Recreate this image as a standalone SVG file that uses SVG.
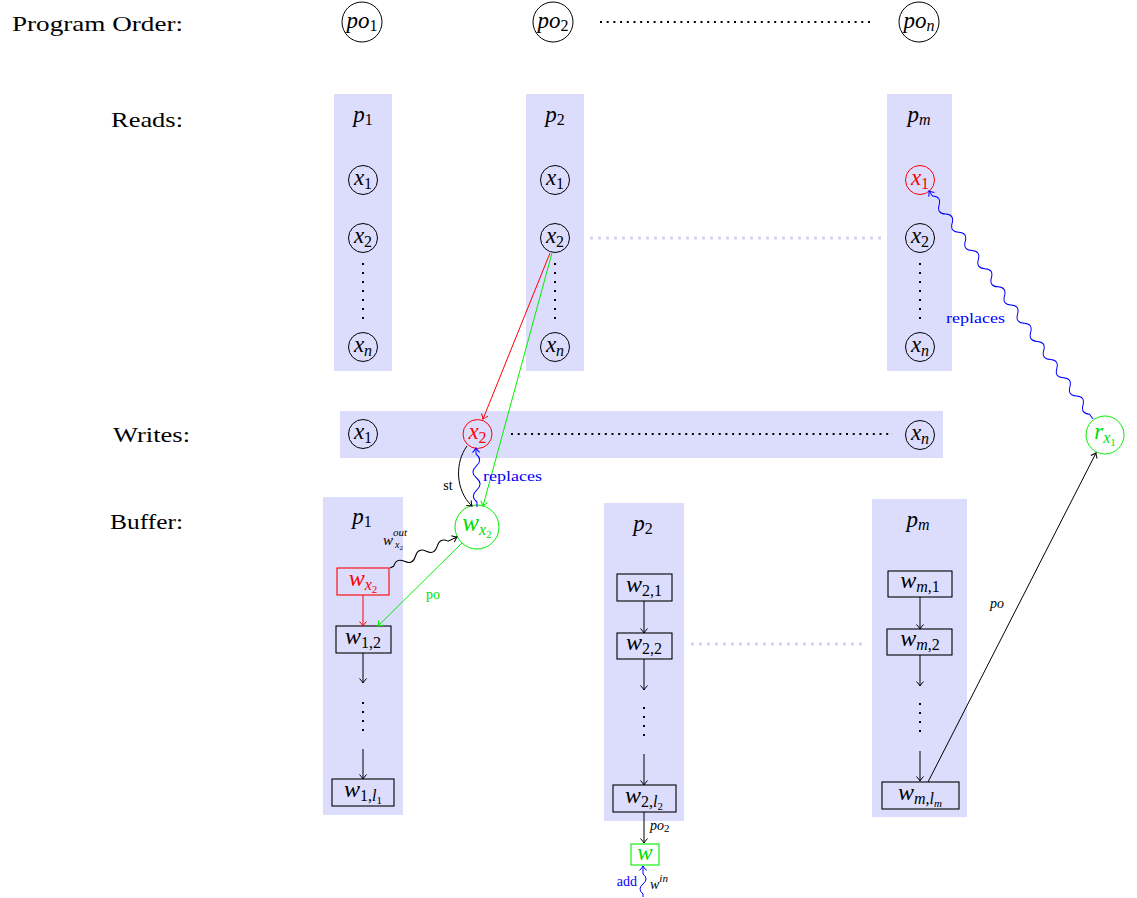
<svg xmlns="http://www.w3.org/2000/svg" width="1137" height="898" viewBox="0 0 1137 898">
<style>
.bg{fill:#dcdcfd;stroke:none}
.lbl{font-family:"Liberation Serif",serif;font-size:22px;fill:#000}
.m{font-family:"Liberation Serif",serif;font-style:italic;font-size:23px}
.mb{font-size:24px}
.s{font-style:normal;font-size:16px}
.si{font-style:italic;font-size:16px}
.ss{font-style:normal;font-size:11px}
.ssi{font-style:italic;font-size:11px}
.sm{font-family:"Liberation Serif",serif;font-size:14px}
.c{fill:none;stroke:#000;stroke-width:1}
.r{fill:none;stroke:#000;stroke-width:1.1}
.ln{fill:none;stroke-width:1}
.dotk{fill:none;stroke:#000;stroke-width:2;stroke-dasharray:2 4.7}
.dotv{fill:none;stroke:#000;stroke-width:2;stroke-dasharray:2 7}
.dotl{fill:none;stroke:#d4d4f8;stroke-width:3;stroke-dasharray:3 5}
</style>
<defs>
<marker id="ak" viewBox="-6 -5 8 10" refX="0" refY="0" markerWidth="8" markerHeight="10" orient="auto" markerUnits="userSpaceOnUse"><path d="M-4.5,-3.5 Q-1.5,-0.8 0,0 Q-1.5,0.8 -4.5,3.5" fill="none" stroke="#000" stroke-width="1"/></marker>
<marker id="ar" viewBox="-6 -5 8 10" refX="0" refY="0" markerWidth="8" markerHeight="10" orient="auto" markerUnits="userSpaceOnUse"><path d="M-4.5,-3.5 Q-1.5,-0.8 0,0 Q-1.5,0.8 -4.5,3.5" fill="none" stroke="#ff0000" stroke-width="1"/></marker>
<marker id="ag" viewBox="-6 -5 8 10" refX="0" refY="0" markerWidth="8" markerHeight="10" orient="auto" markerUnits="userSpaceOnUse"><path d="M-4.5,-3.5 Q-1.5,-0.8 0,0 Q-1.5,0.8 -4.5,3.5" fill="none" stroke="#00ee00" stroke-width="1"/></marker>
<marker id="ab" viewBox="-6 -5 8 10" refX="0" refY="0" markerWidth="8" markerHeight="10" orient="auto" markerUnits="userSpaceOnUse"><path d="M-4.5,-3.5 Q-1.5,-0.8 0,0 Q-1.5,0.8 -4.5,3.5" fill="none" stroke="#0000ff" stroke-width="1"/></marker>
</defs>
<rect width="1137" height="898" fill="#fff"/>

<g id="panels">
<rect class="bg" x="334" y="94" width="58" height="277"/>
<rect class="bg" x="526" y="94" width="58" height="277"/>
<rect class="bg" x="887" y="94" width="65" height="277"/>
<rect class="bg" x="340" y="411" width="603" height="47"/>
<rect class="bg" x="323" y="497" width="80" height="318"/>
<rect class="bg" x="604" y="503" width="80" height="318"/>
<rect class="bg" x="872" y="499" width="95" height="318"/>
</g>

<g id="row-labels" class="lbl">
<text x="12" y="31" textLength="171" lengthAdjust="spacingAndGlyphs">Program Order:</text>
<text x="111" y="127" textLength="72" lengthAdjust="spacingAndGlyphs">Reads:</text>
<text x="113" y="442" textLength="77" lengthAdjust="spacingAndGlyphs">Writes:</text>
<text x="110" y="529" textLength="73" lengthAdjust="spacingAndGlyphs">Buffer:</text>
</g>

<g id="po1"><circle class="c" cx="362" cy="22" r="20"/><text class="m" x="362" y="28" text-anchor="middle">po<tspan class="s" dy="3">1</tspan></text></g>
<g id="po2"><circle class="c" cx="553" cy="22" r="20"/><text class="m" x="553" y="28" text-anchor="middle">po<tspan class="s" dy="3">2</tspan></text></g>
<g id="pon"><circle class="c" cx="919" cy="22" r="20"/><text class="m" x="919" y="28" text-anchor="middle">po<tspan class="si" dy="3">n</tspan></text></g>

<g id="reads-p1">
<text class="m" x="363" y="122" text-anchor="middle">p<tspan class="s" dy="3">1</tspan></text>
<circle class="c" cx="363" cy="180" r="14.5"/><text class="m" x="363" y="185" text-anchor="middle">x<tspan class="s" dy="4">1</tspan></text>
<circle class="c" cx="363" cy="238" r="14.5"/><text class="m" x="363" y="243" text-anchor="middle">x<tspan class="s" dy="4">2</tspan></text>
<circle class="c" cx="363" cy="347" r="14.5"/><text class="m" x="363" y="352" text-anchor="middle">x<tspan class="si" dy="4">n</tspan></text>
</g>
<g id="reads-p2">
<text class="m" x="555" y="122" text-anchor="middle">p<tspan class="s" dy="3">2</tspan></text>
<circle class="c" cx="555" cy="180" r="14.5"/><text class="m" x="555" y="185" text-anchor="middle">x<tspan class="s" dy="4">1</tspan></text>
<circle class="c" cx="555" cy="238" r="14.5"/><text class="m" x="555" y="243" text-anchor="middle">x<tspan class="s" dy="4">2</tspan></text>
<circle class="c" cx="555" cy="347" r="14.5"/><text class="m" x="555" y="352" text-anchor="middle">x<tspan class="si" dy="4">n</tspan></text>
</g>
<g id="reads-pm">
<text class="m" x="919" y="122" text-anchor="middle">p<tspan class="si" dy="3">m</tspan></text>
<circle class="c" cx="920" cy="180" r="14.5" style="stroke:#ff0000"/><text class="m" x="920" y="185" text-anchor="middle" fill="#ff0000">x<tspan class="s" dy="4">1</tspan></text>
<circle class="c" cx="920" cy="238" r="14.5"/><text class="m" x="920" y="243" text-anchor="middle">x<tspan class="s" dy="4">2</tspan></text>
<circle class="c" cx="920" cy="347" r="14.5"/><text class="m" x="920" y="352" text-anchor="middle">x<tspan class="si" dy="4">n</tspan></text>
</g>

<g id="writes-x1"><circle class="c" cx="363" cy="434" r="14.5"/><text class="m" x="363" y="439" text-anchor="middle">x<tspan class="s" dy="4">1</tspan></text></g>
<g id="writes-x2"><circle class="c" cx="477.5" cy="434" r="14.5" style="stroke:#ff0000"/><text class="m" x="477.5" y="439" text-anchor="middle" fill="#ff0000">x<tspan class="s" dy="4">2</tspan></text></g>
<g id="writes-xn"><circle class="c" cx="920" cy="435" r="14.5"/><text class="m" x="920" y="440" text-anchor="middle">x<tspan class="si" dy="4">n</tspan></text></g>
<g id="r-x1"><circle class="c" cx="1105" cy="435" r="19" style="stroke:#00ee00"/><text class="m" x="1105" y="439" text-anchor="middle" fill="#00dd00">r<tspan class="si" dy="4">x</tspan><tspan class="ss" dy="3">1</tspan></text></g>

<g id="buf-p1">
<text class="m" x="362" y="524" text-anchor="middle">p<tspan class="s" dy="3">1</tspan></text>
<rect class="r" x="337" y="568" width="52" height="27" style="stroke:#ff0000"/><text class="m mb" x="363" y="586" text-anchor="middle" fill="#ff0000">w<tspan class="si" dy="4">x</tspan><tspan class="ss" dy="3">2</tspan></text>
<rect class="r" x="336" y="626" width="55" height="27"/><text class="m mb" x="363" y="644" text-anchor="middle">w<tspan class="s" dy="4">1,2</tspan></text>
<rect class="r" x="332" y="779" width="62" height="27"/><text class="m mb" x="363" y="797" text-anchor="middle">w<tspan class="s" dy="4">1,</tspan><tspan class="si">l</tspan><tspan class="ss" dy="3">1</tspan></text>
</g>
<g id="w-x2"><circle class="c" cx="477" cy="527" r="22" style="stroke:#00ee00"/><text class="m" x="477" y="531" text-anchor="middle" fill="#00dd00" style="font-size:25px">w<tspan class="si" dy="4">x</tspan><tspan class="ss" dy="3">2</tspan></text></g>

<g id="buf-p2">
<text class="m" x="643" y="531" text-anchor="middle">p<tspan class="s" dy="3">2</tspan></text>
<rect class="r" x="617" y="574" width="55" height="27"/><text class="m mb" x="644" y="592" text-anchor="middle">w<tspan class="s" dy="4">2,1</tspan></text>
<rect class="r" x="617" y="633" width="55" height="26"/><text class="m mb" x="644" y="650" text-anchor="middle">w<tspan class="s" dy="4">2,2</tspan></text>
<rect class="r" x="613" y="785" width="63" height="27"/><text class="m mb" x="644" y="803" text-anchor="middle">w<tspan class="s" dy="4">2,</tspan><tspan class="si">l</tspan><tspan class="ss" dy="3">2</tspan></text>
</g>
<g id="w-new"><rect class="r" x="631" y="844" width="28" height="21" style="stroke:#00ee00"/><text class="m" x="645" y="860" text-anchor="middle" fill="#00dd00">w</text></g>

<g id="buf-pm">
<text class="m" x="918" y="527" text-anchor="middle">p<tspan class="si" dy="3">m</tspan></text>
<rect class="r" x="888" y="571" width="64" height="26"/><text class="m mb" x="920" y="588" text-anchor="middle">w<tspan class="si" dy="4">m</tspan><tspan class="s">,1</tspan></text>
<rect class="r" x="887" y="629" width="65" height="26"/><text class="m mb" x="920" y="646" text-anchor="middle">w<tspan class="si" dy="4">m</tspan><tspan class="s">,2</tspan></text>
<rect class="r" x="882" y="782" width="77" height="27"/><text class="m mb" x="920" y="800" text-anchor="middle">w<tspan class="si" dy="4">m</tspan><tspan class="s">,</tspan><tspan class="si">l</tspan><tspan class="ssi" dy="3">m</tspan></text>
</g>

<g id="connectors">
<line class="dotk" x1="600" y1="22" x2="870" y2="22"/>
<line class="dotk" x1="511" y1="434" x2="893" y2="434"/>
<line class="dotv" x1="363" y1="263" x2="363" y2="319"/>
<line class="dotv" x1="555" y1="263" x2="555" y2="319"/>
<line class="dotv" x1="920" y1="263" x2="920" y2="319"/>
<line class="dotv" x1="363" y1="702" x2="363" y2="732"/>
<line class="dotv" x1="644" y1="707" x2="644" y2="737"/>
<line class="dotv" x1="920" y1="703" x2="920" y2="733"/>
<line class="dotl" x1="590" y1="238" x2="885" y2="238"/>
<line class="dotl" x1="691" y1="644" x2="865" y2="644"/>

<line class="ln" x1="550" y1="253" x2="483" y2="419" stroke="#ff0000" marker-end="url(#ar)"/>
<line class="ln" x1="552" y1="253" x2="483" y2="506" stroke="#00ee00" marker-end="url(#ag)"/>
<path class="ln" d="M467,446 C455,462 455,490 472,506" stroke="#000" marker-end="url(#ak)"/>
<g transform="translate(477,507) rotate(-91)"><path class="ln" stroke="#0000ff" marker-end="url(#ab)" d="M0,0 L5,0 q6,-7 12,0 t12,0 t12,0 t12,0 L59,0"/></g>
<g transform="translate(390,568) rotate(-24.8)"><path class="ln" stroke="#000" marker-end="url(#ak)" d="M0,0 L4,0 q6,-7 12,0 t12,0 t12,0 t12,0 t12,0 L73.8,0"/></g>
<line class="ln" x1="462" y1="543" x2="378" y2="626" stroke="#00ee00" marker-end="url(#ag)"/>
<line class="ln" x1="363" y1="595" x2="363" y2="626" stroke="#ff0000" marker-end="url(#ar)"/>
<line class="ln" x1="363" y1="653" x2="363" y2="683" stroke="#000" marker-end="url(#ak)"/>
<line class="ln" x1="363" y1="749" x2="363" y2="779" stroke="#000" marker-end="url(#ak)"/>
<line class="ln" x1="644" y1="601" x2="644" y2="633" stroke="#000" marker-end="url(#ak)"/>
<line class="ln" x1="644" y1="659" x2="644" y2="690" stroke="#000" marker-end="url(#ak)"/>
<line class="ln" x1="644" y1="754" x2="644" y2="785" stroke="#000" marker-end="url(#ak)"/>
<line class="ln" x1="644" y1="812" x2="644" y2="843" stroke="#000" marker-end="url(#ak)"/>
<line class="ln" x1="920" y1="597" x2="920" y2="629" stroke="#000" marker-end="url(#ak)"/>
<line class="ln" x1="920" y1="655" x2="920" y2="686" stroke="#000" marker-end="url(#ak)"/>
<line class="ln" x1="920" y1="751" x2="920" y2="781" stroke="#000" marker-end="url(#ak)"/>
<line class="ln" x1="928" y1="782" x2="1096" y2="453" stroke="#000" marker-end="url(#ak)"/>
<g transform="translate(1093,419) rotate(234.27)"><path class="ln" stroke="#0000ff" marker-end="url(#ab)" d="M0,0 L6,0 q5.6,-7 11.2,0 t11.2,0 t11.2,0 t11.2,0 t11.2,0 t11.2,0 t11.2,0 t11.2,0 t11.2,0 t11.2,0 t11.2,0 t11.2,0 t11.2,0 t11.2,0 t11.2,0 t11.2,0 t11.2,0 t11.2,0 t11.2,0 t11.2,0 t11.2,0 t11.2,0 t11.2,0 t11.2,0 L280.9,0"/></g>
<g transform="translate(643,897) rotate(-90)"><path class="ln" stroke="#0000ff" marker-end="url(#ab)" d="M0,0 L3,0 q5,-6 10,0 t10,0 L31,0"/></g>

<text class="sm" x="448" y="490" text-anchor="middle">st</text>
<text class="sm" x="483" y="481" fill="#0000ff" textLength="59" lengthAdjust="spacingAndGlyphs">replaces</text>
<text class="sm" x="946" y="323" fill="#0000ff" textLength="59" lengthAdjust="spacingAndGlyphs">replaces</text>
<text class="sm" x="426" y="599" fill="#00dd00">po</text>
<text class="sm" x="997" y="608" text-anchor="middle" style="font-style:italic">po</text>
<text class="sm" x="650" y="830" style="font-style:italic">po<tspan class="ss" dy="2">2</tspan></text>
<text class="sm" x="637" y="886" text-anchor="end" fill="#0000ff">add</text>
<text class="sm" x="650" y="889" style="font-style:italic">w<tspan class="ssi" dy="-7">in</tspan></text>
<text class="sm" x="383" y="545" style="font-style:italic;font-size:15px">w<tspan class="ssi" dy="-9">out</tspan></text>
<text class="sm" x="395" y="548" style="font-style:italic;font-size:10px">x<tspan class="ss" style="font-size:7px" dy="2">2</tspan></text>
</g>
</svg>
